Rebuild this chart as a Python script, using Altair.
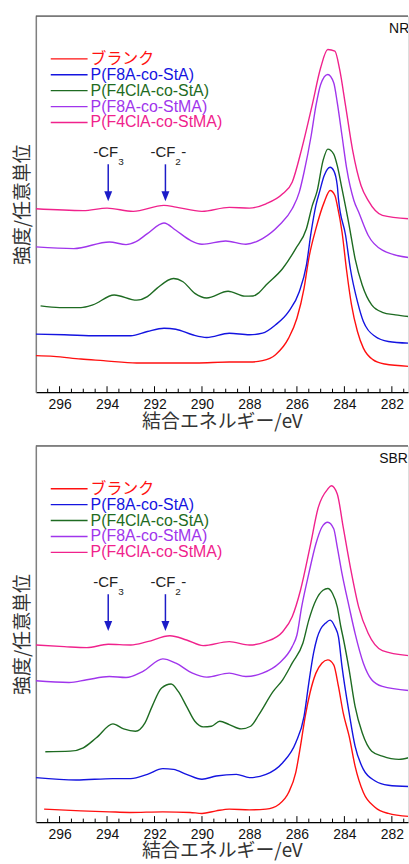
import altair as alt
import pandas as pd

SERIES = ["ブランク", "P(F8A-co-StA)", "P(F4ClA-co-StA)", "P(F8A-co-StMA)", "P(F4ClA-co-StMA)"]
COLORS = ["#ff1010", "#1414e0", "#1e6b22", "#a035ec", "#f0228c"]

# ---- NR panel ----
nr_blank_ev = [297.0, 296.25, 295.1, 294.15, 292.75, 290.25, 288.85, 288.0, 287.45, 286.9, 286.35, 286.0, 285.7, 285.5, 285.2, 284.85, 284.6, 284.4, 284.3, 284.1, 283.9, 283.7, 283.45, 283.2, 282.8, 282.3, 281.3]
nr_blank_i = [36.7, 36, 33.3, 31.7, 29.3, 29.3, 30.3, 30.3, 31.7, 37.7, 54.3, 74.3, 104.3, 134.3, 164.3, 191, 202.7, 197.7, 187.7, 161, 121, 87.7, 61, 44.3, 32.7, 28.3, 26]

nr_f8a_sta_ev = [297.0, 295.8, 294.4, 293.0, 292.3, 291.6, 291.1, 290.4, 289.8, 288.85, 288.0, 287.45, 286.9, 286.35, 285.9, 285.6, 285.4, 285.2, 285.05, 284.85, 284.6, 284.45, 284.3, 284.25, 283.95, 283.75, 283.45, 283.2, 282.7, 282.15, 281.3]
nr_f8a_sta_i = [58.3, 57.7, 56.7, 56.7, 61, 64.3, 63.3, 57.7, 55, 59.3, 57.7, 59.3, 67.7, 81, 101, 127.7, 161, 187.7, 201, 217.7, 226, 222.7, 207.7, 194.3, 157.7, 124.3, 91, 71, 56, 51, 49.3]

nr_f4cla_sta_ev = [296.8, 296.0, 295.1, 294.6, 293.7, 292.75, 292.3, 291.9, 291.2, 290.8, 290.3, 289.8, 288.9, 288.2, 287.85, 287.6, 287.3, 286.6, 286.05, 285.6, 285.35, 285.15, 284.9, 284.7, 284.45, 284.3, 284.1, 283.8, 283.55, 283.25, 282.85, 282.4, 281.85, 281.3]
nr_f4cla_sta_i = [86.7, 85, 85, 87.7, 97.7, 92.5, 96, 104.3, 114.3, 111, 99.3, 94.7, 101.5, 96.5, 96.7, 100, 107.7, 124.3, 144.3, 164.3, 187.7, 202, 232.7, 244.3, 239.3, 227.7, 204.3, 167.7, 134.3, 107.7, 87.7, 80.3, 77.7, 76]

nr_f8a_stma_ev = [297.0, 295.4, 293.9, 293.2, 292.8, 292.3, 291.6, 291.1, 290.5, 290.0, 289.0, 288.15, 287.45, 286.75, 286.2, 285.9, 285.7, 285.4, 285.2, 285.0, 284.7, 284.45, 284.3, 284.1, 283.9, 283.6, 283.4, 283.0, 282.4, 281.3]
nr_f8a_stma_i = [146, 144.3, 151, 148.3, 151, 159.3, 170, 162.7, 152.7, 148.7, 152, 148.7, 154.3, 167.7, 184.3, 201, 221, 257.7, 287.7, 309.3, 319.3, 311, 291, 257.7, 224.3, 192.7, 181, 157.7, 142.7, 135.3]

nr_f4cla_stma_ev = [297.0, 295.0, 294.0, 292.9, 291.6, 291.1, 290.0, 288.85, 288.0, 287.3, 286.6, 286.2, 285.8, 285.35, 285.0, 284.7, 284.4, 284.2, 283.95, 283.65, 283.3, 283.0, 282.4, 281.3]
nr_f4cla_stma_i = [184.3, 182.5, 185, 181.7, 187.7, 186, 181.7, 185.7, 185, 189.3, 199.3, 211, 244.3, 289.3, 326, 344.3, 342.7, 324.3, 287.7, 242.7, 207.7, 192.7, 177.7, 174.3]

# ---- SBR panel ----
sbr_blank_ev = [296.65, 295.1, 293.9, 293.05, 291.65, 290.5, 290.0, 289.4, 288.85, 288.0, 287.3, 286.75, 286.35, 286.05, 285.85, 285.65, 285.45, 285.2, 284.95, 284.7, 284.45, 284.25, 284.05, 283.8, 283.55, 283.2, 282.7, 282.15, 281.3]
sbr_blank_i = [13, 11.3, 10.3, 9.7, 10.3, 9.7, 8.7, 11.3, 13, 12.3, 13, 18, 29.7, 49.7, 76.3, 106.3, 129.7, 149.7, 159.7, 163, 158, 136.3, 109.7, 86.3, 56.3, 29.7, 14.7, 8.7, 5.7]

sbr_f8a_sta_ev = [297.0, 295.3, 293.75, 293.0, 292.3, 291.65, 291.2, 290.65, 290.0, 289.4, 288.55, 288.0, 287.3, 286.6, 286.05, 285.7, 285.5, 285.3, 285.15, 285.0, 284.8, 284.6, 284.4, 284.25, 284.1, 283.8, 283.55, 283.2, 282.7, 282.15, 281.3]
sbr_f8a_sta_i = [44.7, 42.3, 43.7, 43.7, 48, 53.7, 53, 48, 43, 46.3, 48, 44.7, 48, 59.7, 79.7, 106.3, 139.7, 169.7, 185, 194, 199.7, 203, 196.3, 186, 156.3, 109.7, 76.3, 53, 41.3, 37, 35.7]

sbr_f4cla_sta_ev = [296.6, 295.55, 295.0, 294.45, 293.75, 293.3, 292.8, 292.4, 292.1, 291.7, 291.3, 291.0, 290.65, 290.3, 289.95, 289.6, 289.25, 288.85, 288.35, 287.95, 287.6, 287.0, 286.6, 286.2, 285.75, 285.5, 285.2, 284.9, 284.7, 284.5, 284.3, 284.15, 284.05, 283.8, 283.55, 283.25, 282.85, 282.4, 281.7, 281.3]
sbr_f4cla_sta_i = [70.7, 71.3, 74.7, 84.7, 98.7, 93.7, 91.3, 99.7, 116.3, 134.7, 138.7, 131.3, 116.3, 101.3, 95.7, 96.3, 101.3, 98, 93.7, 96.3, 108, 131.3, 143, 159.7, 179.7, 203, 223, 233, 234.7, 229.7, 216.3, 196.3, 185, 153, 116.3, 89.7, 71.3, 66.3, 63, 64.7]

sbr_f8a_stma_ev = [297.0, 295.6, 294.85, 293.9, 293.2, 292.5, 291.65, 291.1, 290.4, 289.8, 288.85, 288.15, 287.45, 286.75, 286.2, 286.0, 285.8, 285.5, 285.2, 284.95, 284.7, 284.45, 284.3, 284.1, 283.8, 283.55, 283.2, 282.85, 282.4, 281.3]
sbr_f8a_stma_i = [142, 140.3, 143, 146.3, 145.3, 151.3, 164, 159.7, 149.7, 145.7, 149.7, 146.3, 149.7, 159.7, 176.3, 188, 216.3, 249.7, 279.7, 296.3, 301.3, 294.7, 276.3, 249.7, 216.3, 189.7, 159.7, 143, 136.3, 132.3]

sbr_f4cla_stma_ev = [297.0, 295.8, 294.85, 293.95, 293.0, 292.3, 291.35, 290.65, 289.95, 288.85, 288.0, 287.3, 286.6, 286.2, 285.85, 285.45, 285.1, 284.7, 284.55, 284.3, 284.05, 283.75, 283.4, 283.0, 282.4, 281.3]
sbr_f4cla_stma_i = [178, 176.3, 175.3, 178.7, 178, 181.3, 187.3, 183, 177.3, 181.3, 178, 181.3, 191.3, 206.3, 233, 276.3, 316.3, 334.7, 338, 329.7, 296.3, 256.3, 216.3, 189.7, 172.3, 167.3]

# annotation arrows (eV positions) and tick labels
ANNOT_EV = [293.95, 291.54]
MAJOR = [296, 294, 292, 290, 288, 286, 284, 282]
MINOR = [296.5, 295.5, 295, 294.5, 293.5, 293, 292.5, 291.5, 291, 290.5, 289.5, 289,
         288.5, 287.5, 287, 286.5, 285.5, 285, 284.5, 283.5, 283, 282.5, 281.5]

W, H = 374, 378
XDOM = [297.0, 281.32]
LAT = "Liberation Sans, Arial, Helvetica, sans-serif"
CJK = "Noto Sans CJK JP, sans-serif"
MIX = "Liberation Sans, Noto Sans CJK JP, sans-serif"
ARROW = "#1c1cc8"

xscale = alt.Scale(domain=XDOM, nice=False, zero=False)
yscale = alt.Scale(domain=[0, H], nice=False, zero=False)

X_AXIS = alt.Axis(values=MAJOR, ticks=False, grid=False, domainColor="#000000", domainWidth=1.2,
                  labelFont=LAT, labelFontSize=14, labelColor="#111111", labelPadding=5,
                  labelFlush=False, title="結合エネルギー/eV", titleFont=CJK, titleFontSize=19,
                  titleFontWeight="normal", titleColor="#333333", titlePadding=1)
Y_AXIS = alt.Axis(labels=False, ticks=False, grid=False, domainColor="#808080", domainWidth=1.5,
                  title="強度/任意単位", titleFont=CJK, titleFontSize=19, titleFontWeight="normal",
                  titleColor="#333333", titlePadding=3)
X_ENC = alt.X("ev:Q", scale=xscale, axis=X_AXIS)
Y_ENC = alt.Y("i:Q", scale=yscale, axis=Y_AXIS)


def panel(arrays, tag, tag_x):
    rows = []
    for s, (ev, inten) in zip(SERIES, arrays):
        for k, (e, v) in enumerate(zip(ev, inten)):
            rows.append({"series": s, "ev": e, "i": v, "k": k})
    df = pd.DataFrame(rows)
    one = pd.DataFrame({"a": [0]})

    lines = alt.Chart(df).mark_line(clip=True, strokeWidth=1.4, interpolate="monotone").encode(
        x=X_ENC, y=Y_ENC,
        color=alt.Color("series:N", scale=alt.Scale(domain=SERIES, range=COLORS), legend=None),
        order="k:Q")

    major = alt.Chart(pd.DataFrame({"ev": MAJOR})).mark_rule(color="#000000", strokeWidth=1).encode(
        x=X_ENC, y=alt.value(H), y2=alt.value(H - 6))
    minor = alt.Chart(pd.DataFrame({"ev": MINOR})).mark_rule(color="#000000", strokeWidth=1).encode(
        x=X_ENC, y=alt.value(H), y2=alt.value(H - 3.5))
    top = alt.Chart(one).mark_rule(color="#222222", strokeWidth=1).encode(
        x=alt.value(0), x2=alt.value(W), y=alt.value(0))
    tagtxt = alt.Chart(one).mark_text(align="left", baseline="middle", font=LAT, fontSize=14,
                                      color="#111111", clip=True).encode(
        x=alt.value(tag_x), y=alt.value(13), text=alt.value(tag))

    layers = [lines, major, minor, top, tagtxt]

    # legend
    for idx, (s, c) in enumerate(zip(SERIES, COLORS)):
        ly = 43 + 16 * idx
        layers.append(alt.Chart(one).mark_rule(color=c, strokeWidth=1.4).encode(
            x=alt.value(15), x2=alt.value(52), y=alt.value(ly)))
        layers.append(alt.Chart(one).mark_text(align="left", baseline="middle", font=MIX,
                                               fontSize=16, color=c).encode(
            x=alt.value(55), y=alt.value(ly), text=alt.value(s)))

    # annotations
    adf = pd.DataFrame({"ev": ANNOT_EV, "sub": ["3", "2"], "tail": ["", "-"]})
    shaft = alt.Chart(adf).mark_rule(color=ARROW, strokeWidth=1.5).encode(
        x=X_ENC, y=alt.value(149), y2=alt.value(180))
    head = alt.Chart(adf).mark_point(shape="M-0.8,-2L0.8,-2L0,0Z", filled=True, size=100,
                                     color=ARROW, opacity=1).encode(
        x=X_ENC, y=alt.value(186))
    cf = alt.Chart(adf).mark_text(align="right", baseline="middle", font=LAT, fontSize=15,
                                  color="#222222", dx=10).encode(
        x=X_ENC, y=alt.value(137), text=alt.value("-CF"))
    sub = alt.Chart(adf).mark_text(align="left", baseline="middle", font=LAT, fontSize=10,
                                   color="#222222", dx=10).encode(
        x=X_ENC, y=alt.value(147), text="sub:N")
    tail = alt.Chart(adf).mark_text(align="left", baseline="middle", font=LAT, fontSize=15,
                                    color="#222222", dx=16).encode(
        x=X_ENC, y=alt.value(137), text="tail:N")
    layers += [shaft, head, cf, sub, tail]

    return alt.layer(*layers).properties(width=W, height=H)


nr = panel([(nr_blank_ev, nr_blank_i), (nr_f8a_sta_ev, nr_f8a_sta_i), (nr_f4cla_sta_ev, nr_f4cla_sta_i),
            (nr_f8a_stma_ev, nr_f8a_stma_i), (nr_f4cla_stma_ev, nr_f4cla_stma_i)], "NR", 355)
sbr = panel([(sbr_blank_ev, sbr_blank_i), (sbr_f8a_sta_ev, sbr_f8a_sta_i), (sbr_f4cla_sta_ev, sbr_f4cla_sta_i),
             (sbr_f8a_stma_ev, sbr_f8a_stma_i), (sbr_f4cla_stma_ev, sbr_f4cla_stma_i)], "SBR", 345)

chart = alt.vconcat(nr, sbr, spacing=13).properties(
    padding={"left": 13, "top": 13, "right": 0, "bottom": 0}
).configure_view(stroke=None).configure(background="white")

chart.save("out.html", embed_options={"renderer": "svg", "actions": False})
